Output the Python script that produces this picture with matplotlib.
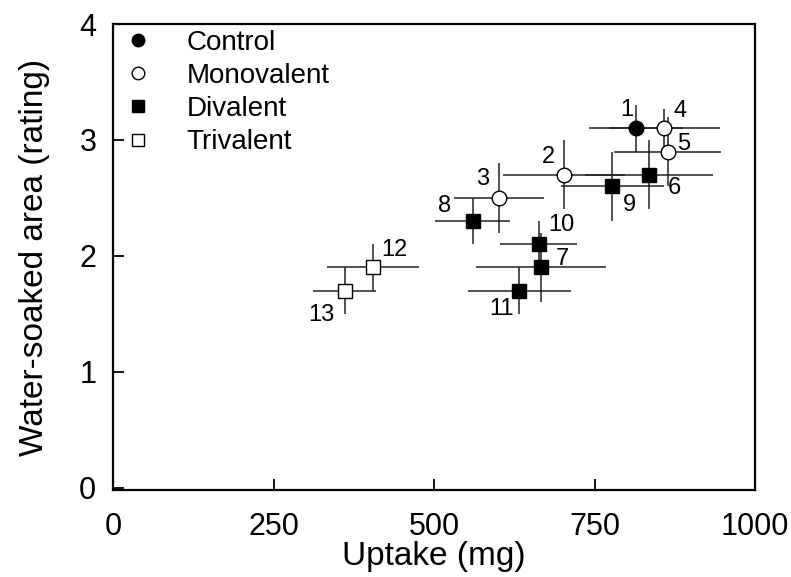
import numpy as np
import matplotlib.pyplot as plt
from matplotlib.lines import Line2D

plt.rcParams['font.family'] = ['Liberation Sans', 'DejaVu Sans']

# Datos (tratamientos 1-13)
point_ids = ['1', '2', '3', '4', '5', '6', '7', '8', '9', '10', '11', '12', '13']
groups = ['Control', 'Monovalent', 'Monovalent', 'Monovalent', 'Monovalent',
          'Divalent', 'Divalent', 'Divalent', 'Divalent', 'Divalent', 'Divalent',
          'Trivalent', 'Trivalent']
uptake = [815, 702, 601, 859, 864, 835, 667, 560, 778, 663, 633, 405, 361]
rating = [3.1, 2.7, 2.5, 3.1, 2.9, 2.7, 1.9, 2.3, 2.6, 2.1, 1.7, 1.9, 1.7]
uptake_err = [73, 95, 70, 86, 83, 100, 101, 58, 80, 60, 80, 72, 49]
rating_err = [0.2, 0.3, 0.3, 0.17, 0.3, 0.3, 0.3, 0.2, 0.3, 0.2, 0.2, 0.2, 0.2]

group_names = ['Control', 'Monovalent', 'Divalent', 'Trivalent']
group_style = {
    'Control': dict(marker='o', mfc='black'),
    'Monovalent': dict(marker='o', mfc='white'),
    'Divalent': dict(marker='s', mfc='black'),
    'Trivalent': dict(marker='s', mfc='white'),
}

# desplazamiento de las etiquetas numericas (pixeles)
label_offsets = [(-9, 18), (-15, 18), (-16, 19), (16, 17), (16, 8), (25, -13),
                 (21, 8), (-28, 15), (17, -19), (23, 19), (-18, -18), (21, 17), (-23, -24)]

fig = plt.figure(figsize=(7.91, 5.77), dpi=100)
ax = fig.add_axes([0.1429, 0.1508, 0.8116, 0.8076])

ax.errorbar(uptake, rating, xerr=uptake_err, yerr=rating_err, fmt='none',
            ecolor='#222222', elinewidth=1.1, capsize=0, zorder=2)

for g in group_names:
    idx = [i for i, gg in enumerate(groups) if gg == g]
    st = group_style[g]
    ax.plot([uptake[i] for i in idx], [rating[i] for i in idx], linestyle='none',
            marker=st['marker'], markerfacecolor=st['mfc'], markeredgecolor='black',
            markersize=10.5 if st['marker'] == 'o' else 10, markeredgewidth=1.0, zorder=3)

for i, pid in enumerate(point_ids):
    dx, dy = label_offsets[i]
    ax.annotate(pid, (uptake[i], rating[i]), xytext=(dx, dy), textcoords='offset pixels',
                ha='center', va='center', fontsize=17, zorder=4)

handles = [Line2D([], [], linestyle='none', marker=group_style[g]['marker'],
                  markerfacecolor=group_style[g]['mfc'], markeredgecolor='black',
                  markersize=9 if group_style[g]['marker'] == 'o' else 8.5)
           for g in group_names]
ax.legend(handles, group_names, loc='upper left', bbox_to_anchor=(0.017, 0.988),
          frameon=False, fontsize=20, handletextpad=1.26, labelspacing=0.26,
          handlelength=1.0, borderaxespad=0, borderpad=0)

ax.set_xlim(0, 1000)
ax.set_ylim(-0.02, 4.0)
ax.set_xticks([0, 250, 500, 750, 1000])
ax.set_yticks([0, 1, 2, 3, 4])
ax.tick_params(direction='in', length=8, width=1.3, labelsize=22)
ax.tick_params(axis='x', pad=16)
ax.tick_params(axis='y', pad=12)
for s in ax.spines.values():
    s.set_linewidth(1.6)

ax.set_xlabel('Uptake (mg)', fontsize=24, labelpad=-1)
ax.set_ylabel('Water-soaked area (rating)', fontsize=24, labelpad=21)

plt.savefig('out.png', dpi=100)
